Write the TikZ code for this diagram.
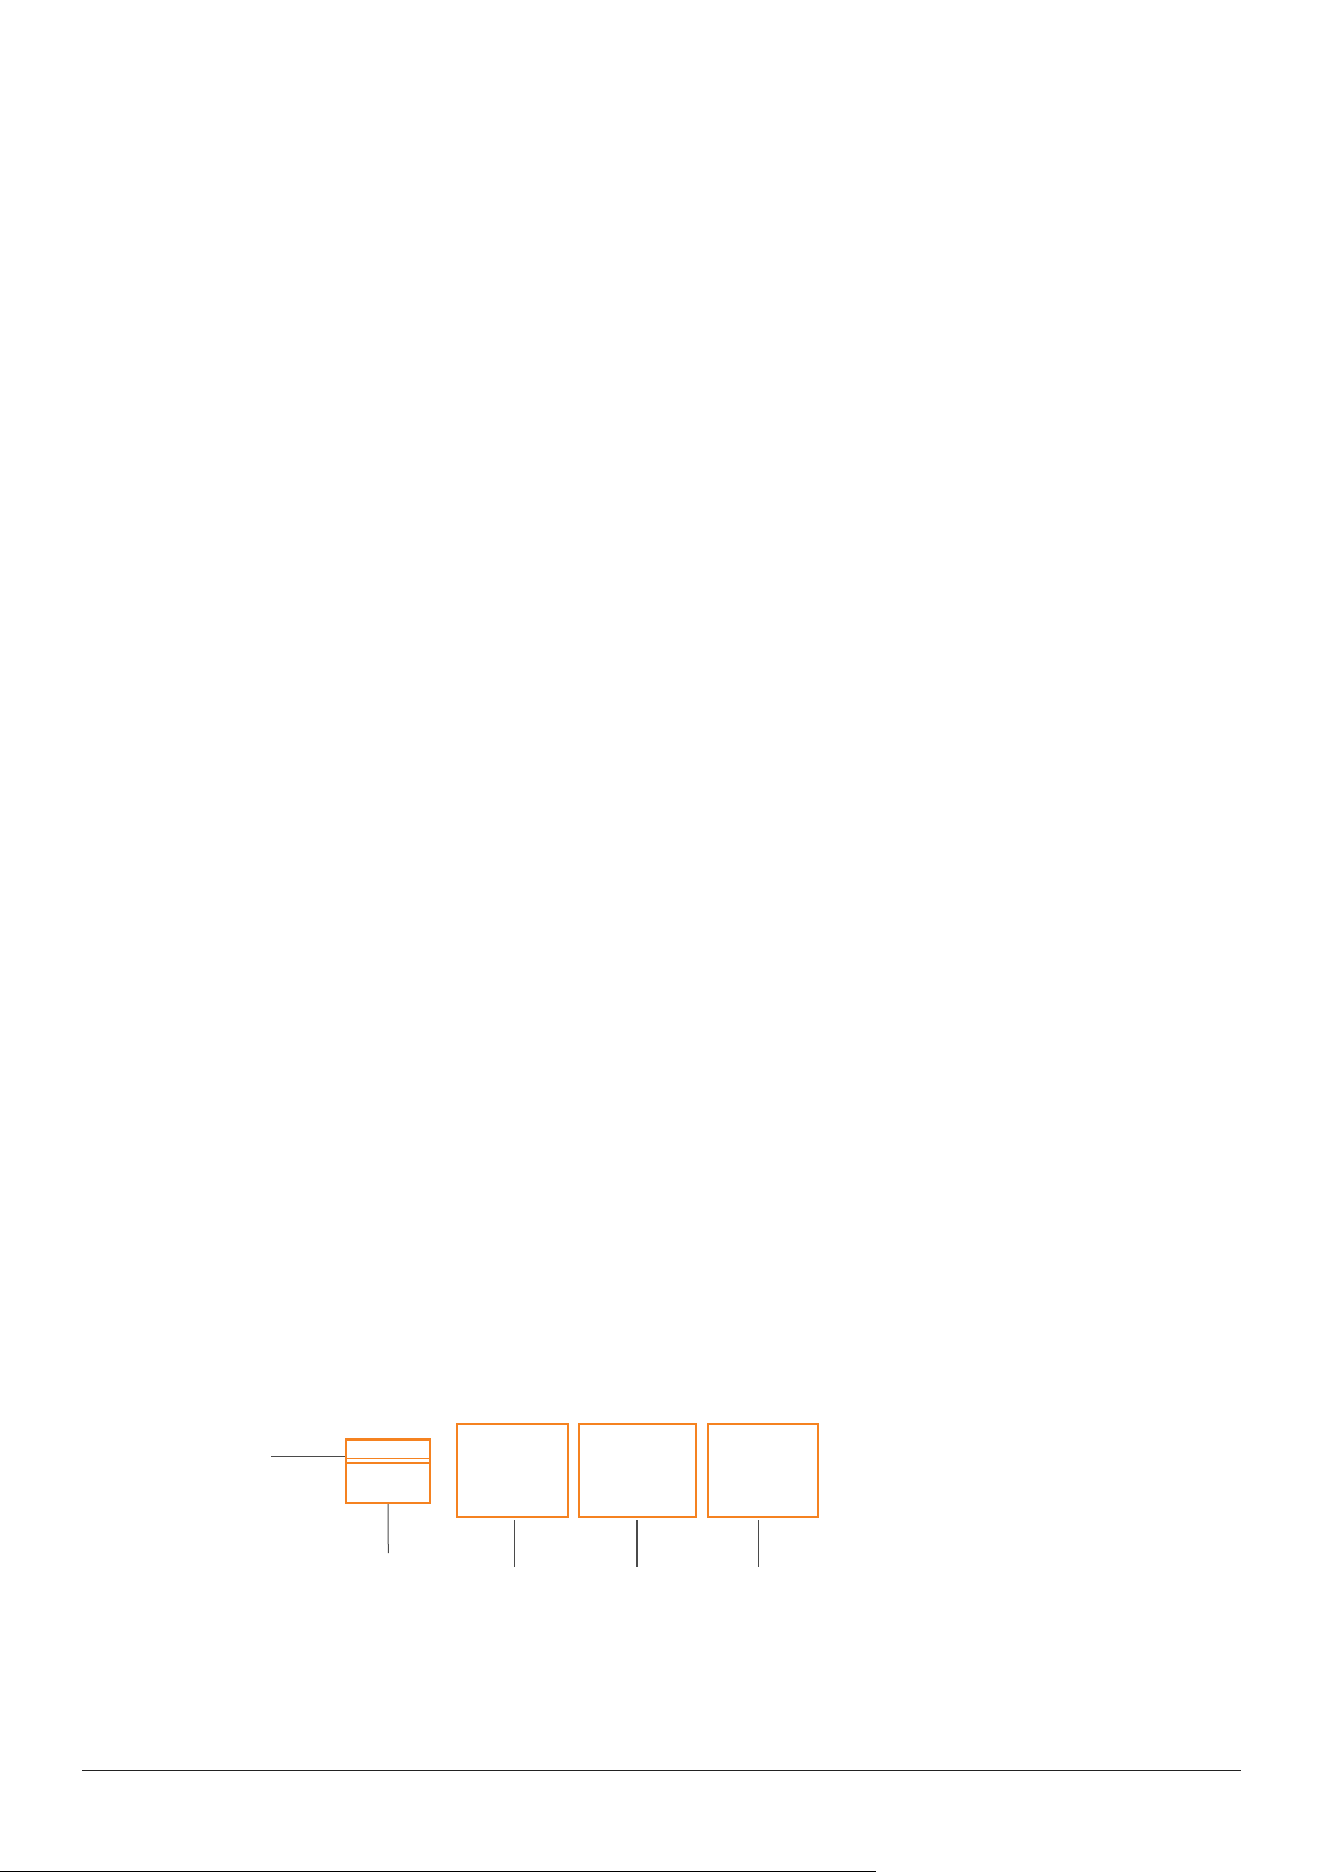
\documentclass[tikz,border=0pt]{standalone}
\usetikzlibrary{calc}
\definecolor{boxorange}{HTML}{F58220}
\definecolor{leadgray}{HTML}{4A4A4A}
\definecolor{rulegray}{HTML}{222222}
\tikzset{
  obox/.style={draw=boxorange, line width=2pt, rectangle, inner sep=0pt, fill=white},
  lead/.style={draw=leadgray, line width=1pt},
  leadthick/.style={draw=leadgray, line width=2pt},
  hrule/.style={draw=rulegray, line width=1.2pt}
}
\begin{document}
\begin{tikzpicture}[x=1pt,y=-1pt]
\useasboundingbox (0,0) rectangle (1324,1872);
% boxes
\node[obox, minimum width=84pt, minimum height=63pt] (sb) at (388,1471.5) {};
\node[obox, minimum width=111pt, minimum height=93.5pt] (b2) at (512,1470.25) {};
\node[obox, minimum width=117.7pt, minimum height=93.5pt] (b3) at (637.35,1470.25) {};
\node[obox, minimum width=110pt, minimum height=93.5pt] (b4) at (763,1470.25) {};
% thicker top edge and inner double line of the small box
\draw[draw=boxorange, line width=2.6pt] (sb.north west) -- (sb.north east);
\draw[draw=boxorange, line width=1.6pt] ($(sb.west)+(0,-13)$) -- ($(sb.east)+(0,-13)$);
\draw[draw=boxorange, line width=1.6pt] ($(sb.west)+(0,-8.5)$) -- ($(sb.east)+(0,-8.5)$);
% leader lines
\coordinate (l0) at (271,1456.3);
\draw[lead] (l0) -- (l0 -| sb.west);
\coordinate (e1) at (388.3,1553);
\coordinate (e2) at (514.3,1567);
\coordinate (e3) at (636.7,1567);
\coordinate (e4) at (758.3,1567);
\draw[lead] (sb.south) -- (e1);
\draw[lead] ($(e2 |- b2.south)+(0,2)$) -- (e2);
\draw[leadthick] ($(e3 |- b3.south)+(0,2)$) -- (e3);
\draw[lead] ($(e4 |- b4.south)+(0,2)$) -- (e4);
% bottom rules
\coordinate (r0) at (82,1770.3);
\coordinate (r1) at (1240.7,1770.3);
\draw[hrule] (r0) -- (r1);
\coordinate (f0) at (0,1871.4);
\coordinate (f1) at (876,1871.4);
\draw[draw=black, line width=1.2pt] (f0) -- (f1);
\end{tikzpicture}
\end{document}
